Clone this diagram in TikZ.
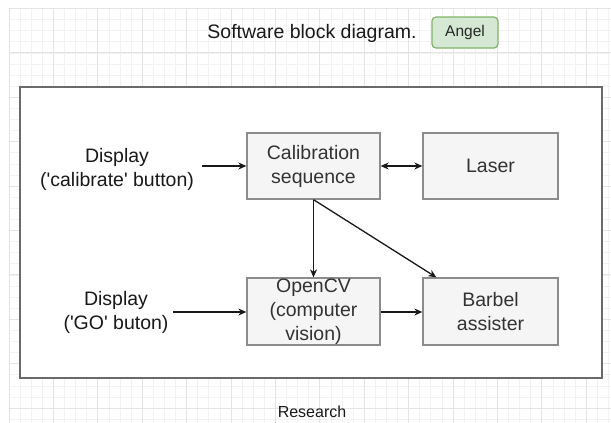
\documentclass[tikz,border=0pt]{standalone}
\usepackage{fontspec}
\setmainfont{Liberation Sans}
\usetikzlibrary{arrows.meta,calc}
\definecolor{boxfill}{HTML}{F5F5F5}
\definecolor{boxline}{HTML}{8C8C8C}
\definecolor{boxtxt}{HTML}{333333}
\definecolor{greenfill}{HTML}{D5E8D4}
\definecolor{greenline}{HTML}{82B366}
\definecolor{frameline}{HTML}{6A6A6A}
\definecolor{gridminor}{HTML}{F2F2F2}
\definecolor{gridmajor}{HTML}{E4E4E4}
\begin{document}
\begin{tikzpicture}[x=1pt,y=-1pt,
  bigfont/.style={font=\fontsize{19.5}{24}\selectfont},
  blockbox/.style={draw=boxline,fill=boxfill,line width=1.3pt,inner sep=0pt,minimum width=133pt,minimum height=66pt},
  blocktext/.style={bigfont,text=boxtxt,align=center,inner sep=0pt},
  disptext/.style={bigfont,text=black!90,align=center,inner sep=0pt},
  conn/.style={line width=1.3pt,draw=black!90,-{Stealth[length=8pt,width=7pt]}},
  gminor/.style={draw=gridminor,line width=0.8pt},
  gmajor/.style={draw=gridmajor,line width=0.9pt}]
\useasboundingbox (0,0) rectangle (611,423);
\fill[white] (0,0) rectangle (611,423);
% background grid
\foreach \i in {0,...,54} \draw[gminor] ({9+11.1*\i},8.5) -- ({9+11.1*\i},423);
\foreach \j in {0,...,37} \draw[gminor] (9,{8.5+11.1*\j}) -- (611,{8.5+11.1*\j});
\foreach \i in {0,...,13} \draw[gmajor] ({9+44.4*\i},8.5) -- ({9+44.4*\i},423);
\foreach \j in {0,...,9} \draw[gmajor] (9,{8.5+44.4*\j}) -- (611,{8.5+44.4*\j});
% title
\node[bigfont,text=black!90,inner sep=0pt] (title) at (312,33) {Software block diagram.};
\node[draw=greenline,fill=greenfill,line width=1.2pt,rounded corners=4pt,minimum width=66pt,minimum height=31pt,inner sep=0pt,
  font=\fontsize{15.5}{18}\selectfont,text=black!85] (angel) at (465,32.5) {Angel};
% frame
\node[draw=frameline,fill=white,line width=1.7pt,minimum width=582pt,minimum height=291pt,inner sep=0pt] (frame) at (311,232.5) {};
\node[font=\fontsize{16}{19}\selectfont,text=black!90,inner sep=0pt] (research) at (312,412) {Research};
% blocks
\node[blockbox] (calib) at (313.5,166) {};
\node[blocktext] at (calib) {Calibration\\sequence};
\node[blockbox,minimum width=135pt] (laser) at (490.5,166) {};
\node[blocktext] at (laser) {Laser};
\node[blockbox,minimum height=67pt] (cv) at (313.5,311.5) {};
\node[blocktext] at (cv) {OpenCV\\(computer\\vision)};
\node[blockbox,minimum width=135pt,minimum height=67pt] (barbel) at (490.5,311.5) {};
\node[blocktext] at (barbel) {Barbel\\assister};
% inputs
\node[disptext] (disp1) at (117,169) {Display\\(\textquotesingle calibrate\textquotesingle\ button)};
\node[disptext] (disp2) at (116,312) {Display\\(\textquotesingle GO\textquotesingle\ buton)};
\coordinate (in1) at (202,166);
\coordinate (in2) at (173,312);
\coordinate (bt) at ($(barbel.north west)+(14,0)$);
% connectors
\draw[conn] (in1) -- (calib.west |- in1);
\draw[conn] (in2) -- (cv.west |- in2);
\draw[line width=1.3pt,draw=black!90,{Stealth[length=8pt,width=7pt]}-{Stealth[length=8pt,width=7pt]}] (calib.east) -- (laser.west);
\draw[conn] (calib.south) -- (cv.north);
\draw[conn] (calib.south) -- (bt);
\draw[conn] (cv.east |- in2) -- (barbel.west |- in2);
\end{tikzpicture}
\end{document}
